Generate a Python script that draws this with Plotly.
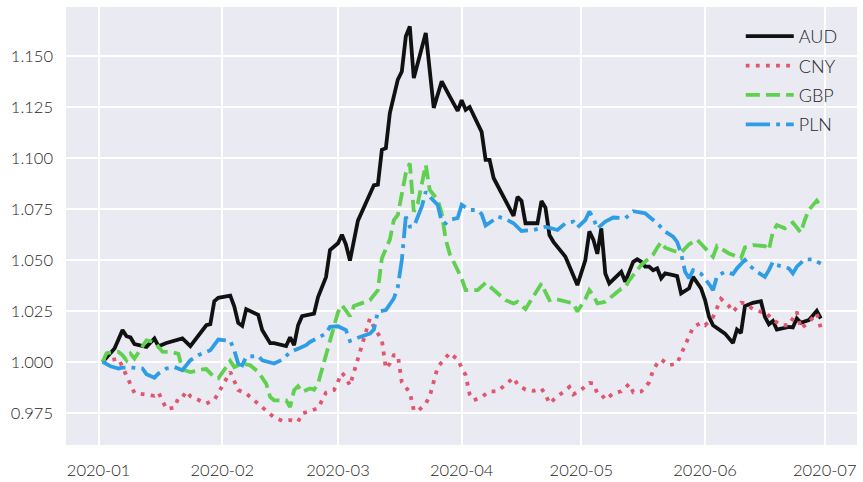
import plotly.graph_objects as go

# Currency indices, normalised to 1.0 at the start of 2020
aud_dates = ["2020-01-02", "2020-01-05", "2020-01-07", "2020-01-08", "2020-01-09", "2020-01-10", "2020-01-13",
             "2020-01-15", "2020-01-16", "2020-01-18", "2020-01-22", "2020-01-24", "2020-01-28", "2020-01-29",
             "2020-01-30", "2020-01-31", "2020-02-03", "2020-02-04", "2020-02-05", "2020-02-06", "2020-02-07",
             "2020-02-10", "2020-02-11", "2020-02-13", "2020-02-14", "2020-02-17", "2020-02-18", "2020-02-19",
             "2020-02-20", "2020-02-21", "2020-02-24", "2020-02-25", "2020-02-27", "2020-02-28", "2020-03-01",
             "2020-03-02", "2020-03-03", "2020-03-04", "2020-03-06", "2020-03-09", "2020-03-10", "2020-03-11",
             "2020-03-12", "2020-03-13", "2020-03-14", "2020-03-16", "2020-03-17", "2020-03-18", "2020-03-19",
             "2020-03-20", "2020-03-23", "2020-03-25", "2020-03-27", "2020-03-29", "2020-03-31", "2020-04-01",
             "2020-04-02", "2020-04-03", "2020-04-06", "2020-04-07", "2020-04-08", "2020-04-09", "2020-04-14",
             "2020-04-15", "2020-04-16", "2020-04-17", "2020-04-20", "2020-04-21", "2020-04-22", "2020-04-23",
             "2020-04-24", "2020-04-27", "2020-04-30", "2020-05-02", "2020-05-03", "2020-05-04", "2020-05-05",
             "2020-05-06", "2020-05-07", "2020-05-08", "2020-05-11", "2020-05-12", "2020-05-14", "2020-05-15",
             "2020-05-16", "2020-05-17", "2020-05-18", "2020-05-19", "2020-05-20", "2020-05-21", "2020-05-22",
             "2020-05-24", "2020-05-25", "2020-05-26", "2020-05-28", "2020-05-29", "2020-05-31", "2020-06-01",
             "2020-06-02", "2020-06-03", "2020-06-04", "2020-06-06", "2020-06-08", "2020-06-09", "2020-06-10",
             "2020-06-11", "2020-06-13", "2020-06-15", "2020-06-16", "2020-06-17", "2020-06-18", "2020-06-19",
             "2020-06-22", "2020-06-23", "2020-06-24", "2020-06-25", "2020-06-27", "2020-06-29", "2020-06-30"]
aud_values = [1.0000, 1.0066, 1.0156, 1.0126, 1.0120, 1.0087, 1.0074,
              1.0115, 1.0077, 1.0093, 1.0115, 1.0077, 1.0180, 1.0185,
              1.0298, 1.0314, 1.0325, 1.0273, 1.0191, 1.0177, 1.0259,
              1.0231, 1.0157, 1.0092, 1.0092, 1.0078, 1.0121, 1.0082,
              1.0180, 1.0224, 1.0237, 1.0318, 1.0416, 1.0549, 1.0582,
              1.0624, 1.0575, 1.0497, 1.0693, 1.0816, 1.0866, 1.0869,
              1.1040, 1.1048, 1.1220, 1.1384, 1.1424, 1.1596, 1.1645,
              1.1392, 1.1613, 1.1246, 1.1376, 1.1302, 1.1231, 1.1283,
              1.1236, 1.1250, 1.1128, 1.0991, 1.0991, 1.0902, 1.0716,
              1.0809, 1.0789, 1.0680, 1.0680, 1.0789, 1.0757, 1.0622,
              1.0589, 1.0516, 1.0377, 1.0500, 1.0640, 1.0600, 1.0530,
              1.0655, 1.0434, 1.0385, 1.0442, 1.0393, 1.0491, 1.0503,
              1.0491, 1.0467, 1.0467, 1.0450, 1.0459, 1.0410, 1.0434,
              1.0426, 1.0421, 1.0336, 1.0361, 1.0417, 1.0361, 1.0303,
              1.0221, 1.0180, 1.0168, 1.0139, 1.0093, 1.0159, 1.0142,
              1.0274, 1.0290, 1.0298, 1.0221, 1.0185, 1.0201, 1.0159,
              1.0172, 1.0169, 1.0213, 1.0192, 1.0205, 1.0250, 1.0213]

cny_dates = ["2020-01-02", "2020-01-06", "2020-01-10", "2020-01-13", "2020-01-15", "2020-01-16", "2020-01-18",
             "2020-01-20", "2020-01-21", "2020-01-22", "2020-01-23", "2020-01-24", "2020-01-28", "2020-01-30",
             "2020-02-03", "2020-02-04", "2020-02-05", "2020-02-07", "2020-02-14", "2020-02-16", "2020-02-18",
             "2020-02-20", "2020-02-21", "2020-02-25", "2020-02-27", "2020-02-29", "2020-03-02", "2020-03-03",
             "2020-03-04", "2020-03-09", "2020-03-10", "2020-03-12", "2020-03-13", "2020-03-14", "2020-03-15",
             "2020-03-16", "2020-03-17", "2020-03-19", "2020-03-20", "2020-03-21", "2020-03-23", "2020-03-24",
             "2020-03-26", "2020-03-29", "2020-03-31", "2020-04-01", "2020-04-02", "2020-04-03", "2020-04-04",
             "2020-04-06", "2020-04-08", "2020-04-10", "2020-04-12", "2020-04-14", "2020-04-15", "2020-04-17",
             "2020-04-19", "2020-04-21", "2020-04-22", "2020-04-23", "2020-04-24", "2020-04-26", "2020-04-28",
             "2020-04-29", "2020-05-01", "2020-05-03", "2020-05-04", "2020-05-05", "2020-05-06", "2020-05-07",
             "2020-05-09", "2020-05-11", "2020-05-13", "2020-05-14", "2020-05-16", "2020-05-18", "2020-05-19",
             "2020-05-20", "2020-05-21", "2020-05-23", "2020-05-25", "2020-05-26", "2020-05-27", "2020-05-28",
             "2020-05-29", "2020-05-31", "2020-06-01", "2020-06-03", "2020-06-04", "2020-06-05", "2020-06-07",
             "2020-06-08", "2020-06-10", "2020-06-11", "2020-06-13", "2020-06-15", "2020-06-16", "2020-06-18",
             "2020-06-20", "2020-06-22", "2020-06-24", "2020-06-25", "2020-06-27", "2020-06-29", "2020-06-30"]
cny_values = [1.0000, 1.0017, 0.9848, 0.9841, 0.9834, 0.9850, 0.9770,
              0.9776, 0.9824, 0.9827, 0.9856, 0.9832, 0.9796, 0.9813,
              0.9951, 0.9907, 0.9862, 0.9845, 0.9728, 0.9712, 0.9715,
              0.9707, 0.9747, 0.9773, 0.9850, 0.9862, 0.9946, 0.9923,
              0.9884, 1.0213, 1.0172, 1.0107, 0.9968, 0.9992, 1.0033,
              1.0033, 0.9900, 0.9851, 0.9763, 0.9759, 0.9796, 0.9832,
              0.9975, 1.0044, 1.0012, 0.9972, 0.9935, 0.9841, 0.9812,
              0.9828, 0.9856, 0.9856, 0.9889, 0.9922, 0.9889, 0.9864,
              0.9858, 0.9869, 0.9841, 0.9796, 0.9814, 0.9845, 0.9877,
              0.9841, 0.9864, 0.9897, 0.9894, 0.9846, 0.9841, 0.9815,
              0.9846, 0.9856, 0.9892, 0.9851, 0.9855, 0.9900, 0.9960,
              0.9992, 1.0012, 0.9984, 0.9992, 1.0038, 1.0084, 1.0123,
              1.0170, 1.0192, 1.0180, 1.0220, 1.0264, 1.0309, 1.0274,
              1.0246, 1.0290, 1.0288, 1.0259, 1.0246, 1.0246, 1.0207,
              1.0180, 1.0180, 1.0246, 1.0164, 1.0195, 1.0238, 1.0167]

gbp_dates = ["2020-01-02", "2020-01-03", "2020-01-06", "2020-01-07", "2020-01-08", "2020-01-09", "2020-01-10",
             "2020-01-12", "2020-01-13", "2020-01-15", "2020-01-16", "2020-01-17", "2020-01-19", "2020-01-21",
             "2020-01-22", "2020-01-24", "2020-01-27", "2020-01-28", "2020-01-30", "2020-01-31", "2020-02-02",
             "2020-02-03", "2020-02-04", "2020-02-06", "2020-02-08", "2020-02-10", "2020-02-12", "2020-02-13",
             "2020-02-14", "2020-02-17", "2020-02-18", "2020-02-19", "2020-02-20", "2020-02-21", "2020-02-23",
             "2020-02-24", "2020-02-25", "2020-03-01", "2020-03-02", "2020-03-03", "2020-03-04", "2020-03-05",
             "2020-03-07", "2020-03-09", "2020-03-11", "2020-03-12", "2020-03-14", "2020-03-15", "2020-03-16",
             "2020-03-17", "2020-03-18", "2020-03-19", "2020-03-20", "2020-03-21", "2020-03-23", "2020-03-24",
             "2020-03-26", "2020-03-27", "2020-03-28", "2020-03-29", "2020-04-01", "2020-04-02", "2020-04-04",
             "2020-04-05", "2020-04-07", "2020-04-09", "2020-04-12", "2020-04-14", "2020-04-15", "2020-04-17",
             "2020-04-21", "2020-04-22", "2020-04-23", "2020-04-24", "2020-04-27", "2020-04-29", "2020-04-30",
             "2020-05-02", "2020-05-03", "2020-05-04", "2020-05-05", "2020-05-07", "2020-05-09", "2020-05-11",
             "2020-05-12", "2020-05-13", "2020-05-16", "2020-05-19", "2020-05-20", "2020-05-21", "2020-05-22",
             "2020-05-24", "2020-05-26", "2020-05-28", "2020-05-30", "2020-06-01", "2020-06-03", "2020-06-04",
             "2020-06-07", "2020-06-10", "2020-06-11", "2020-06-13", "2020-06-16", "2020-06-17", "2020-06-18",
             "2020-06-19", "2020-06-21", "2020-06-23", "2020-06-25", "2020-06-26", "2020-06-27", "2020-06-29",
             "2020-06-30"]
gbp_values = [1.0000, 1.0043, 1.0049, 1.0033, 1.0008, 1.0040, 1.0017,
              1.0075, 1.0106, 1.0098, 1.0074, 1.0050, 1.0049, 1.0040,
              0.9963, 0.9950, 0.9963, 0.9965, 0.9925, 0.9920, 0.9975,
              1.0005, 0.9975, 0.9992, 0.9984, 0.9951, 0.9894, 0.9828,
              0.9812, 0.9812, 0.9779, 0.9861, 0.9881, 0.9853, 0.9870,
              0.9864, 0.9894, 1.0244, 1.0278, 1.0254, 1.0224, 1.0274,
              1.0287, 1.0303, 1.0352, 1.0508, 1.0600, 1.0696, 1.0721,
              1.0827, 1.0925, 1.0974, 1.0737, 1.0778, 1.0966, 1.0843,
              1.0794, 1.0729, 1.0600, 1.0530, 1.0410, 1.0352, 1.0355,
              1.0352, 1.0388, 1.0352, 1.0303, 1.0287, 1.0295, 1.0259,
              1.0385, 1.0342, 1.0303, 1.0311, 1.0295, 1.0287, 1.0247,
              1.0308, 1.0352, 1.0327, 1.0287, 1.0295, 1.0327, 1.0359,
              1.0367, 1.0400, 1.0475, 1.0527, 1.0560, 1.0587, 1.0560,
              1.0545, 1.0536, 1.0577, 1.0600, 1.0560, 1.0516, 1.0568,
              1.0532, 1.0508, 1.0562, 1.0573, 1.0568, 1.0549, 1.0639,
              1.0671, 1.0655, 1.0683, 1.0634, 1.0696, 1.0745, 1.0791,
              1.0761]

pln_dates = ["2020-01-02", "2020-01-04", "2020-01-06", "2020-01-07", "2020-01-09", "2020-01-12", "2020-01-13",
             "2020-01-15", "2020-01-16", "2020-01-18", "2020-01-20", "2020-01-22", "2020-01-24", "2020-01-26",
             "2020-01-29", "2020-01-31", "2020-02-03", "2020-02-04", "2020-02-05", "2020-02-06", "2020-02-07",
             "2020-02-10", "2020-02-11", "2020-02-14", "2020-02-16", "2020-02-18", "2020-02-20", "2020-02-22",
             "2020-02-23", "2020-02-25", "2020-02-27", "2020-02-28", "2020-03-01", "2020-03-03", "2020-03-04",
             "2020-03-06", "2020-03-09", "2020-03-10", "2020-03-11", "2020-03-13", "2020-03-15", "2020-03-16",
             "2020-03-17", "2020-03-18", "2020-03-19", "2020-03-20", "2020-03-22", "2020-03-23", "2020-03-24",
             "2020-03-26", "2020-03-27", "2020-03-28", "2020-03-29", "2020-03-31", "2020-04-01", "2020-04-03",
             "2020-04-05", "2020-04-06", "2020-04-07", "2020-04-09", "2020-04-10", "2020-04-12", "2020-04-14",
             "2020-04-16", "2020-04-19", "2020-04-22", "2020-04-25", "2020-04-27", "2020-04-29", "2020-04-30",
             "2020-05-02", "2020-05-03", "2020-05-04", "2020-05-05", "2020-05-07", "2020-05-09", "2020-05-12",
             "2020-05-14", "2020-05-17", "2020-05-18", "2020-05-20", "2020-05-22", "2020-05-24", "2020-05-25",
             "2020-05-26", "2020-05-27", "2020-05-28", "2020-05-29", "2020-05-31", "2020-06-02", "2020-06-03",
             "2020-06-04", "2020-06-05", "2020-06-06", "2020-06-08", "2020-06-09", "2020-06-11", "2020-06-12",
             "2020-06-14", "2020-06-16", "2020-06-17", "2020-06-18", "2020-06-19", "2020-06-22", "2020-06-23",
             "2020-06-24", "2020-06-26", "2020-06-28", "2020-06-30"]
pln_values = [1.0000, 0.9979, 0.9968, 0.9972, 0.9972, 0.9968, 0.9940,
              0.9923, 0.9943, 0.9968, 0.9975, 0.9959, 1.0008, 1.0033,
              1.0057, 1.0110, 1.0104, 1.0057, 0.9992, 0.9984, 1.0025,
              1.0030, 1.0008, 0.9992, 1.0011, 1.0048, 1.0065, 1.0082,
              1.0098, 1.0119, 1.0139, 1.0172, 1.0175, 1.0156, 1.0103,
              1.0119, 1.0139, 1.0159, 1.0246, 1.0254, 1.0311, 1.0368,
              1.0500, 1.0712, 1.0663, 1.0663, 1.0761, 1.0835, 1.0810,
              1.0770, 1.0686, 1.0679, 1.0696, 1.0706, 1.0771, 1.0745,
              1.0745, 1.0725, 1.0669, 1.0696, 1.0713, 1.0701, 1.0680,
              1.0642, 1.0647, 1.0663, 1.0647, 1.0680, 1.0688, 1.0659,
              1.0696, 1.0737, 1.0706, 1.0654, 1.0688, 1.0708, 1.0704,
              1.0739, 1.0729, 1.0712, 1.0680, 1.0639, 1.0614, 1.0589,
              1.0532, 1.0442, 1.0410, 1.0450, 1.0432, 1.0382, 1.0352,
              1.0421, 1.0434, 1.0442, 1.0431, 1.0459, 1.0500, 1.0475,
              1.0442, 1.0417, 1.0450, 1.0491, 1.0475, 1.0459, 1.0434,
              1.0467, 1.0503, 1.0503, 1.0482]

y_ticks = [0.975, 1.000, 1.025, 1.050, 1.075, 1.100, 1.125, 1.150]

LW = 3.8
series = [
    ("AUD", aud_dates, aud_values, "#111111", "solid"),
    ("CNY", cny_dates, cny_values, "#e0566e", f"{LW:.1f}px,{1.65*LW:.1f}px"),
    ("GBP", gbp_dates, gbp_values, "#5fd04f", f"{3.7*LW:.1f}px,{1.6*LW:.1f}px"),
    ("PLN", pln_dates, pln_values, "#2f9de6",
     f"{6.4*LW:.1f}px,{1.6*LW:.1f}px,{LW:.1f}px,{1.6*LW:.1f}px"),
]

fig = go.Figure()
for name, xs, ys, color, dash in series:
    fig.add_trace(go.Scatter(
        x=xs, y=ys, mode="lines", name=name, legendgroup=name,
        line=dict(color=color, width=LW, dash=dash),
    ))

font_family = "Lato, 'Open Sans', sans-serif"
fig.update_layout(
    width=863, height=482,
    margin=dict(l=66, r=6, t=7, b=37),
    paper_bgcolor="white",
    plot_bgcolor="#eaeaf2",
    font=dict(family=font_family, size=16.5, color="#262626", weight=300),
    showlegend=True,
    legend=dict(
        x=0.982, y=0.975, xanchor="right", yanchor="top",
        bgcolor="rgba(0,0,0,0)", borderwidth=0,
        font=dict(size=18, color="#262626", weight=300),
        traceorder="grouped", tracegroupgap=3,
        itemwidth=48,
    ),
    xaxis=dict(
        type="date",
        range=["2019-12-23 20:00", "2020-07-09 02:00"],
        dtick="M1", tick0="2020-01-01", tickformat="%Y-%m",
        showgrid=True, gridcolor="white", gridwidth=1.6,
        zeroline=False, showline=False, ticks="",
        ticklabelstandoff=13, automargin=False,
    ),
    yaxis=dict(
        range=[0.95927, 1.17404],
        tickmode="array", tickvals=y_ticks,
        ticktext=[f"{v:.3f}" for v in y_ticks],
        showgrid=True, gridcolor="white", gridwidth=1.6,
        zeroline=False, showline=False, ticks="",
        ticklabelstandoff=12, automargin=False,
    ),
)

fig.write_html("out.html")
